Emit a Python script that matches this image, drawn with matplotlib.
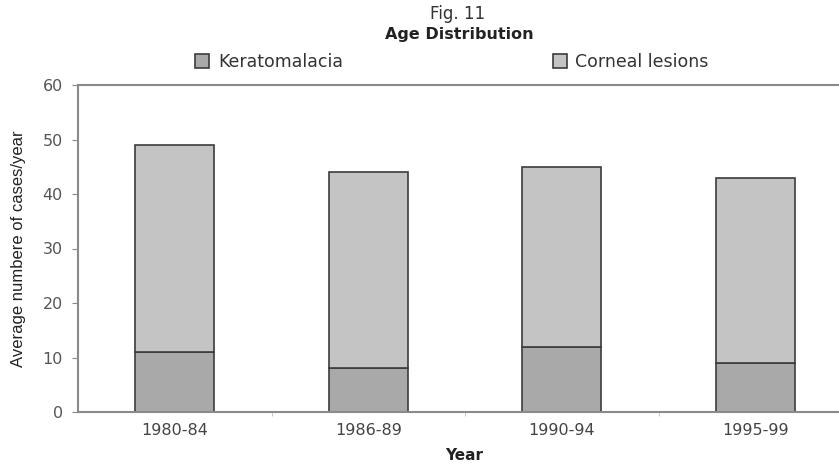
import matplotlib
matplotlib.use("Agg")
import matplotlib.pyplot as plt
import numpy as np
from matplotlib.patches import Patch

categories = ["1980-84", "1986-89", "1990-94", "1995-99"]
keratomalacia = [11, 8, 12, 9]
corneal_lesions = [38, 36, 33, 34]
yticks = [0, 10, 20, 30, 40, 50, 60]

W, H = 839, 466
fig = plt.figure(figsize=(W / 100, H / 100), dpi=100)
ax = fig.add_axes([78 / W, (H - 412) / H, 774 / W, 327 / H])

x = np.arange(len(categories))
c_k = "#a9a9a9"
c_c = "#c4c4c4"
edge = "#3c3c3c"
ax.bar(x, keratomalacia, width=0.41, color=c_k, edgecolor=edge, linewidth=1.2)
ax.bar(x, corneal_lesions, width=0.41, bottom=keratomalacia, color=c_c,
       edgecolor=edge, linewidth=1.2)

ax.set_xlim(-0.5, len(categories) - 0.5)
ax.set_ylim(0, 60)
ax.set_yticks(yticks)
ax.set_xticks(x)
ax.set_xticklabels(categories, fontsize=11.5, color="#444444", family="DejaVu Sans")
ax.set_xticks(np.arange(len(categories) - 1) + 0.5, minor=True)
ax.tick_params(axis="x", which="major", length=0, pad=8)
ax.tick_params(axis="x", which="minor", length=3, color="#bbbbbb")
ax.tick_params(axis="y", length=4, color="#888888", labelsize=11.5,
               labelcolor="#555555", pad=7)
for lab in ax.get_yticklabels():
    lab.set_family("DejaVu Sans")

for s in ["left", "bottom", "top"]:
    ax.spines[s].set_color("#8a8a8a")
    ax.spines[s].set_linewidth(1.5)
ax.spines["right"].set_visible(False)

ax.set_ylabel("Average numbere of cases/year", fontsize=12, family="Liberation Sans",
              color="#222222", labelpad=12)
fig.text(464 / W, 1 - 455 / H, "Year", ha="center", va="center", fontsize=11,
         fontweight="bold", family="DejaVu Sans", color="#222222")

fig.text(458 / W, 1 - 14 / H, "Fig. 11", ha="center", va="center", fontsize=12,
         family="DejaVu Sans", color="#333333")
fig.text(459 / W, 1 - 35 / H, "Age Distribution", ha="center", va="center",
         fontsize=11.5, fontweight="bold", family="DejaVu Sans", color="#222222")

handles = [Patch(facecolor=c_k, edgecolor=edge, linewidth=1.2, label="Keratomalacia"),
           Patch(facecolor=c_c, edgecolor=edge, linewidth=1.2, label="Corneal lesions")]
fig.legend(handles=handles, loc="center", bbox_to_anchor=(452 / W, 1 - 62 / H),
           ncol=2, frameon=False, handlelength=0.8, handleheight=0.8,
           handletextpad=0.5, columnspacing=12.1,
           prop={"family": "DejaVu Sans", "size": 12.5})
for t in fig.legends[0].get_texts():
    t.set_color("#333333")

fig.savefig("out.png", dpi=100)
